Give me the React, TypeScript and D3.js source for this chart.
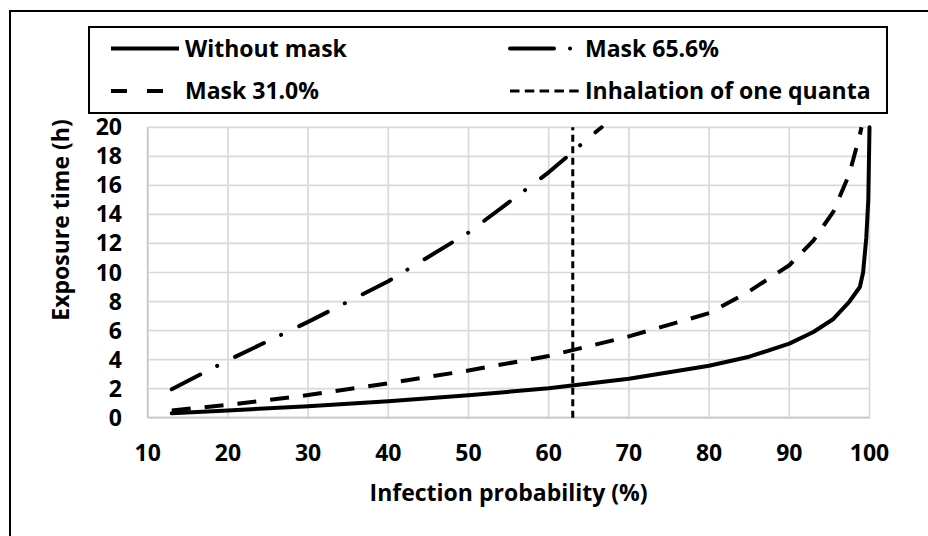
import React, { useEffect, useRef } from "react";
import * as d3 from "d3";

// Infection probability (%) vs exposure time (h)
const withoutMaskX = [13, 20, 30, 40, 50, 60, 70, 80, 85, 90, 93, 95.5, 97.5, 98.8, 99.2, 99.6, 99.85, 100];
const withoutMaskY = [0.3, 0.5, 0.79, 1.13, 1.54, 2.03, 2.68, 3.58, 4.2, 5.1, 5.9, 6.8, 8.0, 9.0, 10.0, 12.4, 15.0, 20];

const mask31X = [13, 20, 30, 40, 50, 60, 70, 80, 85, 90, 93, 95.5, 97.5, 98.8, 99];
const mask31Y = [0.5, 0.88, 1.56, 2.37, 3.25, 4.25, 5.6, 7.2, 8.7, 10.5, 12.2, 14.2, 16.8, 19.5, 20];

const mask65X = [13, 20, 30, 40, 50, 60, 63, 64.8, 66.6];
const mask65Y = [1.96, 3.95, 6.6, 9.4, 12.75, 16.9, 18.3, 19.2, 20];

const quantaX = [63, 63];
const quantaY = [0, 20];

const xTicks = [10, 20, 30, 40, 50, 60, 70, 80, 90, 100];
const yTicks = [0, 2, 4, 6, 8, 10, 12, 14, 16, 18, 20];

const legendItems = [
    { label: "Without mask", dash: null, col: 0, row: 0, len: 68, w: 4, cap: "butt" },
    { label: "Mask 65.6%", dash: "44,16,0.1,30", col: 1, row: 0, len: 64, w: 4, cap: "round" },
    { label: "Mask 31.0%", dash: "16,20", col: 0, row: 1, len: 52, w: 4, cap: "butt" },
    { label: "Inhalation of one quanta", dash: "9.5,5.3", col: 1, row: 1, len: 73, w: 3, cap: "butt" },
];

export default function App() {
    const ref = useRef(null);

    useEffect(() => {
        const font = "'Open Sans', sans-serif";

        const svg = d3.select(ref.current);
        svg.selectAll("*").remove();

        const x = d3.scaleLinear().domain([10, 100]).range([147.7, 869.5]);
        const y = d3.scaleLinear().domain([0, 20]).range([417.7, 127.3]);

        // outer chart border
        svg.append("rect")
            .attr("x", 10)
            .attr("y", 11)
            .attr("width", 1000)
            .attr("height", 1000)
            .attr("fill", "none")
            .attr("stroke", "#000")
            .attr("stroke-width", 2);

        // gridlines
        const grid = svg.append("g").attr("stroke", "#d9d9d9").attr("stroke-width", 1.7);
        grid.selectAll(".gx")
            .data(xTicks)
            .join("line")
            .attr("x1", (d) => x(d))
            .attr("x2", (d) => x(d))
            .attr("y1", y(20))
            .attr("y2", y(0));
        grid.selectAll(".gy")
            .data(yTicks)
            .join("line")
            .attr("class", "gy")
            .attr("x1", x(10))
            .attr("x2", x(100))
            .attr("y1", (d) => y(d))
            .attr("y2", (d) => y(d));

        // axis lines
        svg.append("line")
            .attr("x1", x(10)).attr("x2", x(100))
            .attr("y1", y(0)).attr("y2", y(0))
            .attr("stroke", "#c8c8c8").attr("stroke-width", 1.7);
        svg.append("line")
            .attr("x1", x(10)).attr("x2", x(10))
            .attr("y1", y(0)).attr("y2", y(20))
            .attr("stroke", "#c8c8c8").attr("stroke-width", 1.7);

        // tick labels
        svg.append("g")
            .selectAll("text")
            .data(xTicks)
            .join("text")
            .attr("x", (d) => x(d))
            .attr("y", 461)
            .attr("text-anchor", "middle")
            .attr("font-family", font)
            .attr("font-weight", "bold")
            .attr("font-size", 23)
            .text((d) => d);
        svg.append("g")
            .selectAll("text")
            .data(yTicks)
            .join("text")
            .attr("x", 122)
            .attr("y", (d) => y(d) + 8)
            .attr("text-anchor", "end")
            .attr("font-family", font)
            .attr("font-weight", "bold")
            .attr("font-size", 23)
            .text((d) => d);

        // axis titles
        svg.append("text")
            .attr("x", 508.6)
            .attr("y", 501)
            .attr("text-anchor", "middle")
            .attr("font-family", font)
            .attr("font-weight", "bold")
            .attr("font-size", 23)
            .text("Infection probability (%)");
        svg.append("text")
            .attr("transform", "translate(69,220) rotate(-90)")
            .attr("text-anchor", "middle")
            .attr("font-family", font)
            .attr("font-weight", "bold")
            .attr("font-size", 23)
            .text("Exposure time (h)");

        // series
        const line = d3
            .line()
            .x((d) => x(d[0]))
            .y((d) => y(d[1]));

        const series = [
            { xs: withoutMaskX, ys: withoutMaskY, dash: null, w: 4, cap: "round" },
            { xs: mask31X, ys: mask31Y, dash: "19,14", w: 4, cap: "butt" },
            { xs: mask65X, ys: mask65Y, dash: "32,19,0.1,20", w: 4, cap: "round" },
            { xs: quantaX, ys: quantaY, dash: "7,4.5", w: 3, cap: "butt" },
        ];

        svg.append("g")
            .selectAll("path")
            .data(series)
            .join("path")
            .attr("d", (s) => line(s.xs.map((v, i) => [v, s.ys[i]])))
            .attr("fill", "none")
            .attr("stroke", "#000")
            .attr("stroke-width", (s) => s.w)
            .attr("stroke-linecap", (s) => s.cap)
            .attr("stroke-linejoin", "round")
            .attr("stroke-dasharray", (s) => s.dash);

        // legend
        const lg = svg.append("g");
        lg.append("rect")
            .attr("x", 89)
            .attr("y", 27)
            .attr("width", 798)
            .attr("height", 86)
            .attr("fill", "#fff")
            .attr("stroke", "#000")
            .attr("stroke-width", 2);

        const colX = [111, 510];
        const rowY = [48.5, 91];
        const item = lg
            .selectAll("g.item")
            .data(legendItems)
            .join("g")
            .attr("class", "item")
            .attr("transform", (d) => `translate(${colX[d.col]},${rowY[d.row]})`);
        item.append("line")
            .attr("x1", 0)
            .attr("x2", (d) => d.len)
            .attr("y1", 0)
            .attr("y2", 0)
            .attr("stroke", "#000")
            .attr("stroke-width", (d) => d.w)
            .attr("stroke-linecap", (d) => d.cap)
            .attr("stroke-dasharray", (d) => d.dash);
        item.append("text")
            .attr("x", (d) => (d.col === 0 ? 74 : 75))
            .attr("y", 8)
            .attr("font-family", font)
            .attr("font-weight", "bold")
            .attr("font-size", 23)
            .text((d) => d.label);
    }, []);

    return (
        <div style={{ position: "absolute", left: 0, top: 0 }}>
            <svg ref={ref} width={928} height={536} style={{ display: "block", background: "#fff" }} />
        </div>
    );
}
